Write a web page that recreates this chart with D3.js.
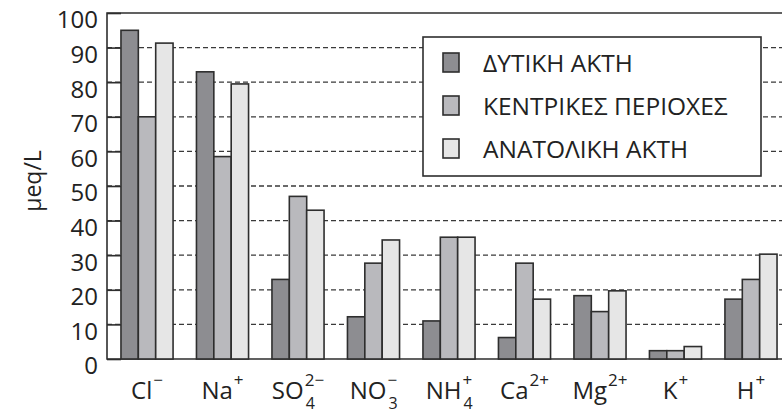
<!DOCTYPE html>
<html>
<head>
<meta charset="utf-8">
<script src="https://cdn.jsdelivr.net/npm/d3@7"></script>
<style>
  body { margin: 0; background: #fff; }
  svg { display: block; }
</style>
</head>
<body>
<script>
// data
const ions = ["Cl", "Na", "SO4", "NO3", "NH4", "Ca", "Mg", "K", "H"]
const ionBase = ["Cl", "Na", "SO", "NO", "NH", "Ca", "Mg", "K", "H"]
const ionSup = ["\u2212", "+", "2\u2212", "\u2212", "+", "2+", "2+", "+", "+"]
const ionSub = ["", "", "4", "3", "4", "", "", "", ""]

const regions = ["ΔΥΤΙΚΗ ΑΚΤΗ", "ΚΕΝΤΡΙΚΕΣ ΠΕΡΙΟΧΕΣ", "ΑΝΑΤΟΛΙΚΗ ΑΚΤΗ"]
const westCoast = [95, 83, 23, 12.2, 11, 6.2, 18.3, 2.4, 17.3]
const central = [70, 58.5, 47, 27.7, 35.2, 27.7, 13.7, 2.4, 23]
const eastCoast = [91.3, 79.5, 43, 34.4, 35.2, 17.3, 19.7, 3.6, 30.3]

const yTicks = [0, 10, 20, 30, 40, 50, 60, 70, 80, 90, 100]
const fills = ["#8d8d91", "#b9b9bd", "#e6e6e6"]
const ink = "#2e2e2e"

function setattrs(shape, dict) {
    for (let [prop, val] of Object.entries(dict)) {
        shape.attr(prop, val)
    }
}

const W = 782, H = 414
const plotLeft = 107, plotTop = 13, plotBottom = 359

const svg = d3.select("body").append("svg")
setattrs(svg, {"width": W, "height": H, "font-family": "'Open Sans', sans-serif"})

const x = d3.scaleBand().domain(ions).range([plotLeft, 791])
    .paddingInner(0.31).paddingOuter(0.185)
const xs = d3.scaleBand().domain([0, 1, 2]).range([0, x.bandwidth()])
const y = d3.scaleLinear().domain([0, 100]).range([plotBottom, plotTop])

// dashed grid
svg.append("g").selectAll("line")
    .data(yTicks.filter(v => v > 0 && v < 100))
    .join("line")
    .attr("x1", plotLeft).attr("x2", W)
    .attr("y1", d => y(d)).attr("y2", d => y(d))
    .attr("stroke", "#3a3a3a").attr("stroke-width", 1.3)
    .attr("stroke-dasharray", "5,3")

// left axis with inward ticks
const yAxis = d3.axisLeft(y).tickValues(yTicks).tickSize(-14).tickPadding(22)
const ga = svg.append("g").attr("transform", `translate(${plotLeft},0)`).call(yAxis)
ga.select(".domain").remove()
ga.selectAll(".tick line").attr("stroke", ink).attr("stroke-width", 1.6)
ga.selectAll(".tick text")
    .attr("font-size", 24).attr("fill", "#222")
    .attr("font-family", "'Open Sans', sans-serif")
    .attr("dy", "0.62em")
    .attr("x", -9)
    .attr("dx", 0)

// frame: left, top, bottom
svg.append("path")
    .attr("d", `M${W},${plotTop}H${plotLeft}V${plotBottom}H${W}`)
    .attr("fill", "none").attr("stroke", ink).attr("stroke-width", 1.6)

// bars
const series = [westCoast, central, eastCoast]
const groups = svg.append("g").selectAll("g")
    .data(ions)
    .join("g")
    .attr("transform", d => `translate(${x(d)},0)`)

groups.selectAll("rect")
    .data((d, i) => series.map((s, k) => ({k: k, v: s[i]})))
    .join("rect")
    .attr("x", d => xs(d.k))
    .attr("width", xs.bandwidth())
    .attr("y", d => y(d.v))
    .attr("height", d => plotBottom - y(d.v))
    .attr("fill", d => fills[d.k])
    .attr("stroke", ink).attr("stroke-width", 1.6)

// category labels with super/subscripts
ions.forEach((ion, i) => {
    const cx = x(ion) + x.bandwidth() / 2
    const g = svg.append("g")
    const base = g.append("text").text(ionBase[i])
    setattrs(base, {"x": 0, "y": 399, "font-size": 24, "fill": "#222"})
    const bw = base.node().getComputedTextLength()
    const sup = g.append("text").text(ionSup[i])
    setattrs(sup, {"x": bw + 1, "y": 386, "font-size": 17, "fill": "#222"})
    let ew = sup.node().getComputedTextLength()
    if (ionSub[i]) {
        const sub = g.append("text").text(ionSub[i])
        setattrs(sub, {"x": bw + 2, "y": 409, "font-size": 16, "fill": "#222"})
        ew = Math.max(ew, sub.node().getComputedTextLength())
    }
    g.attr("transform", `translate(${cx - (bw + 1 + ew) / 2},0)`)
})

// y title
svg.append("text")
    .text("μeq/L")
    .attr("transform", "translate(41,181) rotate(-90)")
    .attr("text-anchor", "middle")
    .attr("font-size", 23).attr("fill", "#222")

// legend
const lg = svg.append("g")
setattrs(lg.append("rect"), {
    "x": 423, "y": 37, "width": 338, "height": 139,
    "fill": "#fff", "stroke": ink, "stroke-width": 1.6
})
regions.forEach((name, k) => {
    const cy = 63 + k * 43
    setattrs(lg.append("rect"), {
        "x": 443, "y": cy - 10, "width": 16, "height": 19,
        "fill": fills[k], "stroke": ink, "stroke-width": 1.6
    })
    setattrs(lg.append("text").text(name), {
        "x": 483, "y": cy + 9, "font-size": 24.5, "fill": "#222"
    })
})
</script>
</body>
</html>
